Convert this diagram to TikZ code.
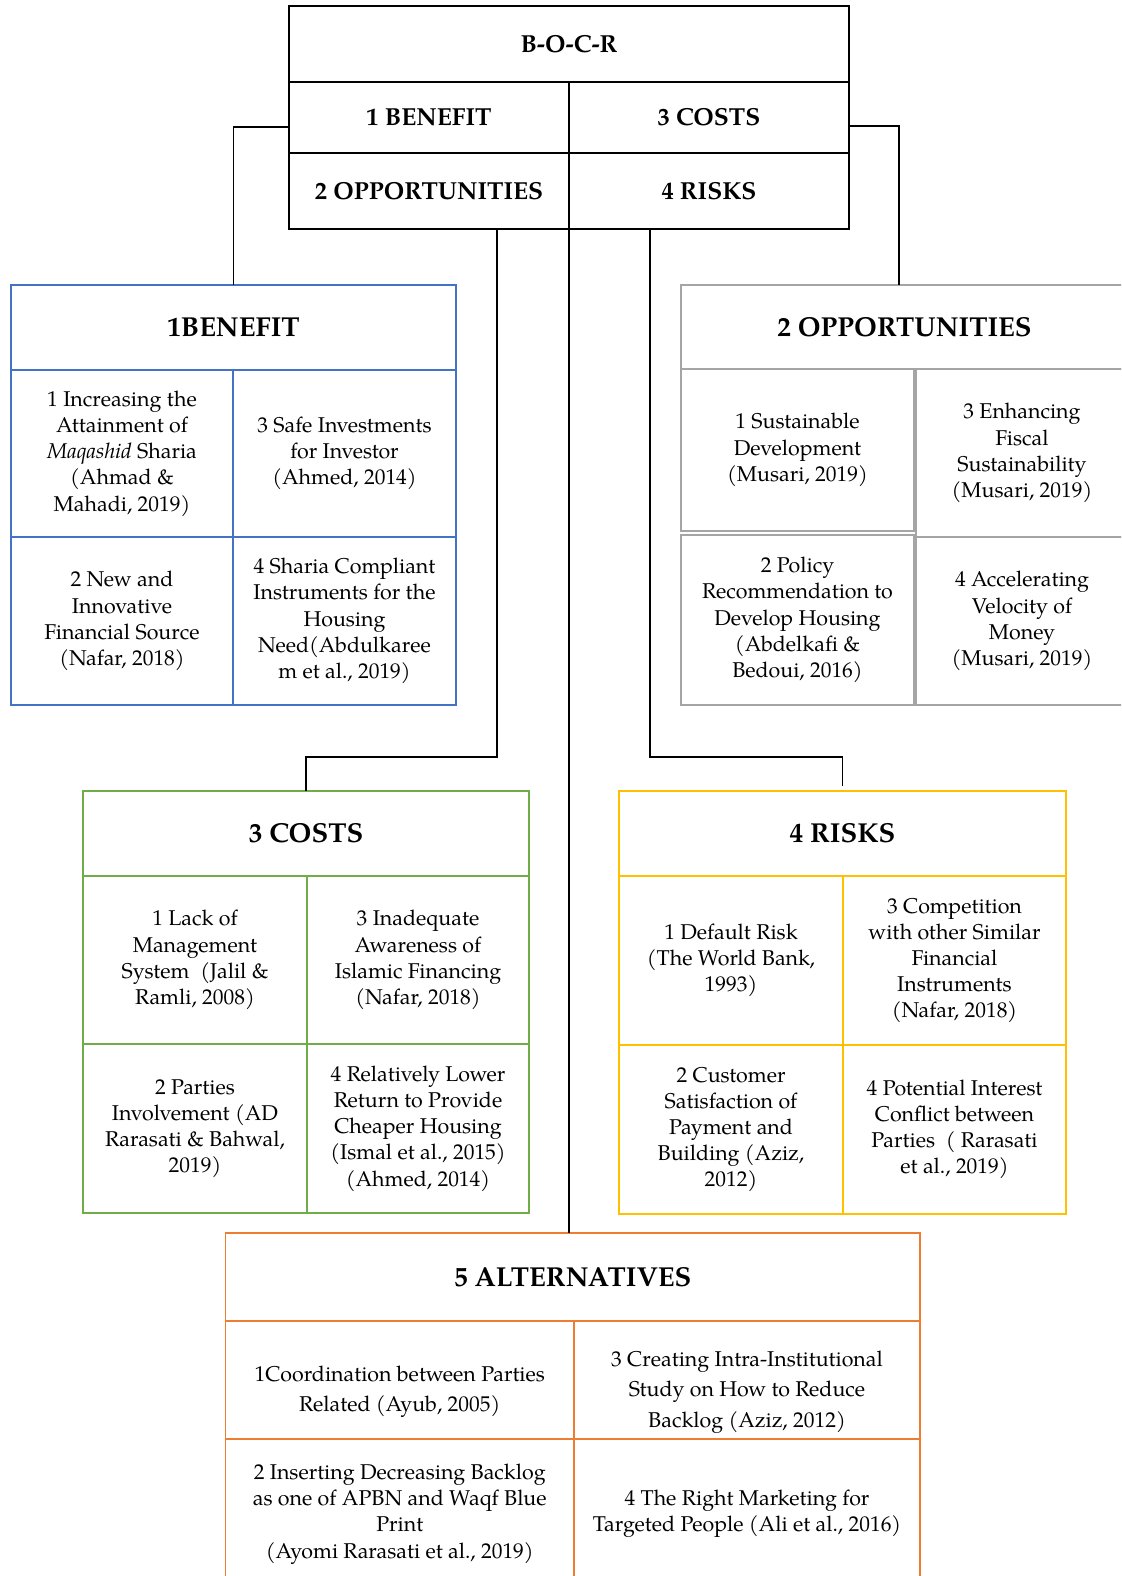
\documentclass[tikz,border=0pt]{standalone}
\usepackage{fontspec}
\setmainfont{texgyrepagella}[Extension=.otf, UprightFont=*-regular, BoldFont=*-bold, ItalicFont=*-italic, BoldItalicFont=*-bolditalic]
\usetikzlibrary{calc}
\definecolor{cblue}{HTML}{4472C4}
\definecolor{cgray}{HTML}{A5A5A5}
\definecolor{cgreen}{HTML}{70AD47}
\definecolor{cyellow}{HTML}{FFC000}
\definecolor{corange}{HTML}{ED7D31}
\newcommand\bodyfont{\fontsize{10.7}{13.1}\selectfont}
\newcommand\altfont{\fontsize{10.7}{15.2}\selectfont}
\newcommand\headfont{\fontsize{13.7}{16}\selectfont\bfseries}
\newcommand\topfont{\fontsize{12.3}{14}\selectfont\bfseries}
\begin{document}
\begin{tikzpicture}[x=0.5pt, y=-0.5pt,
  tbox/.style={draw, anchor=north west, inner sep=0pt, outer sep=0pt, align=center, line width=0.7pt},
  cell/.style={tbox, font=\bodyfont},
  headcell/.style={tbox, font=\headfont},
  topcell/.style={tbox, font=\topfont, draw=black, line width=0.75pt},
  lbl/.style={inner sep=0pt, align=center, font=\altfont},
  wire/.style={draw=black, line width=0.65pt}]
\path[use as bounding box, fill=white] (0,0) rectangle (1121,1576);
\clip (0,0) rectangle (1121,1576);

% B-O-C-R summary table
\node[topcell, minimum width=280pt, minimum height=38pt] (T0) at (289,6) {B-O-C-R};
\node[topcell, minimum width=140pt, minimum height=35.5pt] (T1) at (289,82) {1 BENEFIT};
\node[topcell, minimum width=140pt, minimum height=35.5pt] (T3) at (569,82) {3 COSTS};
\node[topcell, minimum width=140pt, minimum height=38pt] (T2) at (289,153) {2 OPPORTUNITIES};
\node[topcell, minimum width=140pt, minimum height=38pt] (T4) at (569,153) {4 RISKS};

% Benefit
\begin{scope}[every node/.append style={draw=cblue}]
\node[headcell, minimum width=222.5pt, minimum height=42.5pt] (bt) at (11,285) {1BENEFIT};
\node[cell, minimum width=111pt, minimum height=83.5pt] (b1) at (11,370)
  {1 Increasing the\\Attainment of\\\textit{Maqashid} Sharia\\(Ahmad \&\\Mahadi, 2019)};
\node[cell, minimum width=111.5pt, minimum height=83.5pt] (b3) at (233,370)
  {3 Safe Investments\\for Investor\\(Ahmed, 2014)};
\node[cell, minimum width=111pt, minimum height=84pt] (b2) at (11,537)
  {2 New and\\Innovative\\Financial Source\\(Nafar, 2018)};
\node[cell, minimum width=111.5pt, minimum height=84pt] (b4) at (233,537)
  {4 Sharia Compliant\\Instruments for the\\Housing\\Need(Abdulkaree\\m et al., 2019)};
\end{scope}

% Opportunities
\begin{scope}[every node/.append style={draw=cgray}]
\node[headcell, minimum width=223.5pt, minimum height=42pt] (ot) at (681,285) {2 OPPORTUNITIES};
\node[cell, minimum width=116.5pt, minimum height=81pt] (o1) at (681,369)
  {1 Sustainable\\Development\\(Musari, 2019)};
\node[cell, minimum width=116.5pt, minimum height=85pt] (o2) at (681,535)
  {2 Policy\\Recommendation to\\Develop Housing\\(Abdelkafi \&\\Bedoui, 2016)};
\node[cell, minimum width=106pt, minimum height=84pt] (o3) at (916,369)
  {3 Enhancing\\Fiscal\\Sustainability\\(Musari, 2019)};
\node[cell, minimum width=106pt, minimum height=84pt] (o4) at (916,537)
  {4 Accelerating\\Velocity of\\Money\\(Musari, 2019)};
\end{scope}

% Costs
\begin{scope}[every node/.append style={draw=cgreen}]
\node[headcell, minimum width=223pt, minimum height=42.5pt] (ct) at (83,791) {3 COSTS};
\node[cell, minimum width=112pt, minimum height=84pt] (c1) at (83,876)
  {1 Lack of\\Management\\System\ \ (Jalil \&\\Ramli, 2008)};
\node[cell, minimum width=111pt, minimum height=84pt] (c3) at (307,876)
  {3 Inadequate\\Awareness of\\Islamic Financing\\(Nafar, 2018)};
\node[cell, minimum width=112pt, minimum height=84.5pt] (c2) at (83,1044)
  {2 Parties\\Involvement (AD\\Rarasati \& Bahwal,\\2019)};
\node[cell, minimum width=111pt, minimum height=84.5pt] (c4) at (307,1044)
  {4 Relatively Lower\\Return to Provide\\Cheaper Housing\\(Ismal et al., 2015)\\(Ahmed, 2014)};
\end{scope}

% Risks
\begin{scope}[every node/.append style={draw=cyellow}]
\node[headcell, minimum width=223.5pt, minimum height=42.5pt] (rt) at (619,791) {4 RISKS};
\node[cell, minimum width=112pt, minimum height=84.5pt] (r1) at (619,876)
  {1 Default Risk\\(The World Bank,\\1993)};
\node[cell, minimum width=111.5pt, minimum height=84.5pt] (r3) at (843,876)
  {3 Competition\\with other Similar\\Financial\\Instruments\\(Nafar, 2018)};
\node[cell, minimum width=112pt, minimum height=84.5pt] (r2) at (619,1045)
  {2 Customer\\Satisfaction of\\Payment and\\Building (Aziz,\\2012)};
\node[cell, minimum width=111.5pt, minimum height=84.5pt] (r4) at (843,1045)
  {4 Potential Interest\\Conflict between\\Parties\ \ ( Rarasati\\et al., 2019)};
\end{scope}

% Alternatives
\begin{scope}[every node/.append style={draw=corange}]
\node[headcell, minimum width=347.25pt, minimum height=44pt] (at) at (225.5,1233) {5 ALTERNATIVES};
\node[cell, minimum width=174.25pt, minimum height=59pt,
  label={[lbl, yshift=-6pt]center:{1Coordination between Parties\\Related (Ayub, 2005)}}] (a1) at (225.5,1321) {};
\node[cell, minimum width=173pt, minimum height=59pt,
  label={[lbl, yshift=-6pt]center:{3 Creating Intra-Institutional\\Study on How to Reduce\\Backlog (Aziz, 2012)}}] (a3) at (574,1321) {};
\node[cell, minimum width=174.25pt, minimum height=75pt] (a2) at (225.5,1439)
  {2 Inserting Decreasing Backlog\\as one of APBN and Waqf Blue\\Print\\(Ayomi Rarasati et al., 2019)};
\node[cell, minimum width=173pt, minimum height=75pt] (a4) at (574,1439)
  {4 The Right Marketing for\\Targeted People (Ali et al., 2016)};
\end{scope}

% Connectors
\draw[wire] ([yshift=-4.75pt]T1.west) -| (bt.north);
\draw[wire] ([yshift=-4.25pt]T3.east) -| ([xshift=-2.75pt]ot.north);
\draw[wire] ([xshift=34pt]T2.south) |- ($(ct.north)+(0,17pt)$) -- (ct.north);
\draw[wire] ([xshift=-29.5pt]T4.south) |- ($(rt.north)+(0,17pt)$) -- ([yshift=2.5pt]rt.north);
\draw[wire] (T4.south west) -- (T4.south west |- at.north);
\end{tikzpicture}
\end{document}
